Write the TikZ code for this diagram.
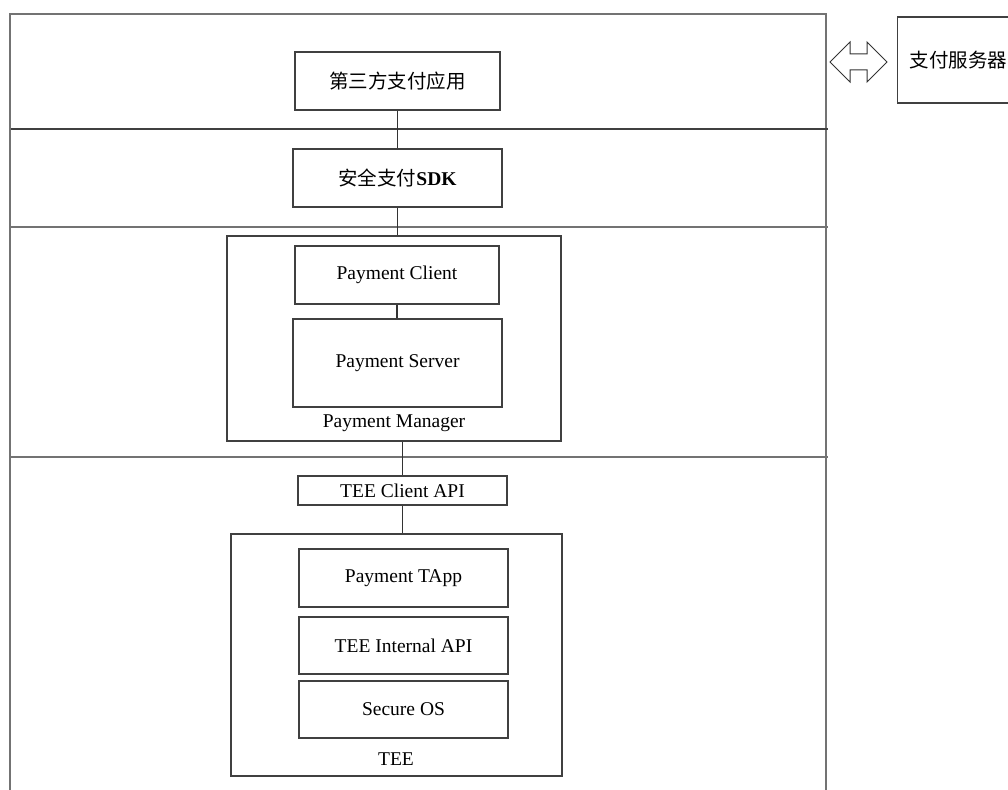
\documentclass[tikz,border=0pt]{standalone}
\usepackage{fontspec}
\setmainfont{Liberation Serif}
\newfontfamily\cjk{Noto Sans CJK SC}
\usetikzlibrary{shapes.arrows}

\tikzset{
  framestyle/.style={draw=black!55, line width=1.3pt},
  box/.style={draw=black!75, line width=1.2pt, inner sep=0pt, align=center,
              font=\fontsize{19.5}{23}\selectfont},
  label/.style={inner sep=0pt, font=\fontsize{19.5}{23}\selectfont},
  link/.style={draw=black!80, line width=1.2pt},
}

\begin{document}
\begin{tikzpicture}[x=1pt, y=-1pt]
  \useasboundingbox (0,0) rectangle (1008,789);
  \clip (0,0) rectangle (1008,789);

  % outer frame, open at the bottom
  \draw[framestyle] (10,792) -- (10,14) -- (826,14) -- (826,792);
  % layer dividers
  \draw[framestyle, draw=black!75] (11,129) -- (828,129);
  \draw[framestyle] (11,227) -- (828,227);
  \draw[framestyle] (11,457) -- (828,457);

  % application layer
  \node[box, minimum width=205pt, minimum height=58pt] (app) at (397.5,81)
    {{\cjk\fontsize{19.5}{23}\selectfont 第三方支付应用}};
  % SDK layer
  \node[box, minimum width=209pt, minimum height=58pt] (sdk) at (397.5,178)
    {{\cjk\fontsize{19.5}{23}\selectfont 安全支付}\textbf{SDK}};

  % payment manager
  \node[box, minimum width=334pt, minimum height=205pt] (pm) at (394,338.5) {};
  \node[box, minimum width=204pt, minimum height=58pt] (pc) at (397,275) {Payment Client};
  \node[box, minimum width=209pt, minimum height=88pt] (ps) at (397.5,363) {Payment Server};
  \node[label] (pmlabel) at (394,423) {Payment Manager};

  % TEE client API
  \node[box, minimum width=209pt, minimum height=29pt] (tca) at (402.5,490.5) {TEE Client API};

  % TEE
  \node[box, minimum width=331pt, minimum height=242pt] (tee) at (396.5,655) {};
  \node[box, minimum width=209pt, minimum height=58pt] (tapp) at (403.5,578) {Payment TApp};
  \node[box, minimum width=209pt, minimum height=57pt] (tia) at (403.5,645.5) {TEE Internal API};
  \node[box, minimum width=209pt, minimum height=57pt] (sos) at (403.5,709.5) {Secure OS};
  \node[label] (teelabel) at (396,759) {TEE};

  % payment server outside the device
  \node[box, anchor=west, minimum width=130pt, minimum height=86pt,
        text width=106pt, align=left, inner xsep=12pt] (srv) at (897,60)
    {{\cjk\fontsize{19.5}{23}\selectfont 支付服务器}};
  \node[double arrow, draw=black!80, line width=1pt, inner sep=7.5pt,
        minimum height=57pt, minimum width=39pt, double arrow head extend=12pt]
    (arr) at (858.5,62) {};

  % connectors
  \draw[link] (app.south) -- (sdk.north);
  \draw[link] (sdk.south) -- (sdk.south |- pm.north);
  \draw[link] (pc.south) -- (pc.south |- ps.north);
  \draw[link] (tca.north |- pm.south) -- (tca.north);
  \draw[link] (tca.south) -- (tca.south |- tee.north);
\end{tikzpicture}
\end{document}
